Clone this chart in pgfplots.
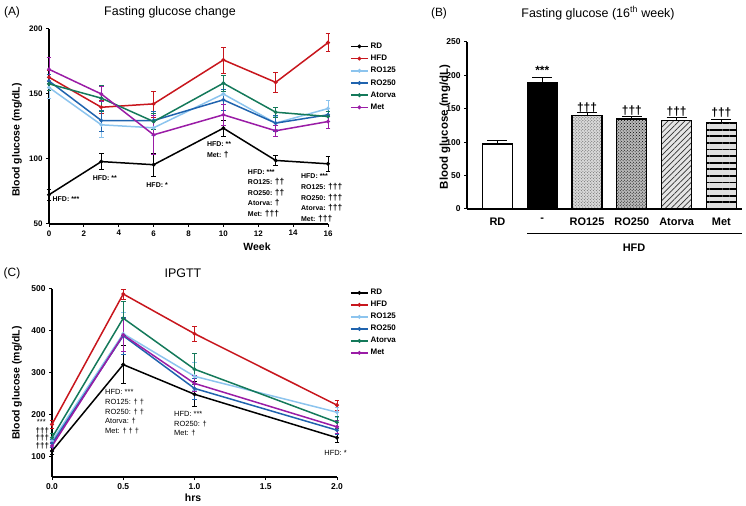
\documentclass[border=0pt]{standalone}
\usepackage{pgfplots}
\pgfplotsset{compat=1.18}
\usepackage{fontspec}
\setmainfont{Liberation Sans}
\usetikzlibrary{patterns,patterns.meta}
\definecolor{crd}{HTML}{000000}
\definecolor{chfd}{HTML}{C8161D}
\definecolor{cro1}{HTML}{8CC4EE}
\definecolor{cro2}{HTML}{1F63AE}
\definecolor{cat}{HTML}{14795A}
\definecolor{cmet}{HTML}{9A1CA6}
\pgfplotsset{
  gp/.style={scale only axis, anchor=south west, axis lines*=left, tick align=outside,
    major tick length=3bp, axis line style={line width=1.2bp},
    tick style={line width=1bp,black}, clip=false,
    /pgf/number format/assume math mode=true,
    legend cell align=left},
  errs/.style={error bars/y dir=both, error bars/y explicit,
    error bars/error bar style={line width=0.7bp},
    error bars/error mark options={rotate=90, mark size=2.3bp, line width=0.7bp}},
  ln/.style={color=#1, line width=1.5bp, mark=*, mark size=1.1bp, errs},
}
\begin{document}
\begin{tikzpicture}
\useasboundingbox (0,0) rectangle (746bp,506bp);
% ---------------- Panel A
\begin{axis}[gp, at={(49bp,282bp)}, width=279bp, height=195bp,
  xmin=0, xmax=16, ymin=50, ymax=200,
  xtick={0,2,...,16}, ytick={50,100,150,200},
  tick label style={font=\fontsize{8}{9}\selectfont\bfseries},
  legend style={at={(1.068,0.95)}, anchor=north west, draw=none, fill=none,
    font=\fontsize{8}{9}\selectfont\bfseries, row sep=1.2bp},
  legend image post style={mark size=1.1bp}]
\addplot[ln=crd] coordinates {(0,72.5)+-(0,4) (3,98)+-(0,6) (6,95.6)+-(0,9) (10,123.7)+-(0,6) (13,98.9)+-(0,4) (16,96.3)+-(0,6)};
\addplot[ln=chfd] coordinates {(0,162.9)+-(0,5) (3,139.8)+-(0,5) (6,142.4)+-(0,10) (10,176.2)+-(0,10) (13,159)+-(0,8) (16,189.5)+-(0,7)};
\addplot[ln=cro1] coordinates {(0,155)+-(0,8) (3,126.3)+-(0,10) (6,124)+-(0,6) (10,150)+-(0,8) (13,127.6)+-(0,5) (16,138.8)+-(0,6)};
\addplot[ln=cro2] coordinates {(0,160)+-(0,5) (3,129.6)+-(0,8) (6,129.6)+-(0,7) (10,145.5)+-(0,8) (13,127.6)+-(0,6) (16,134)+-(0,5)};
\addplot[ln=cat] coordinates {(0,157.8)+-(0,5) (3,146.8)+-(0,10) (6,128.8)+-(0,6) (10,158.3)+-(0,6) (13,136)+-(0,4) (16,132.7)+-(0,4)};
\addplot[ln=cmet] coordinates {(0,169)+-(0,9) (3,150)+-(0,6) (6,118.6)+-(0,15) (10,134)+-(0,8) (13,121.7)+-(0,4) (16,128.8)+-(0,5)};
\legend{RD,HFD,RO125,RO250,Atorva,Met}
\begin{scope}[every node/.style={font=\fontsize{7}{10.6}\selectfont\bfseries, align=left, inner sep=0pt}]
\node[anchor=north west] at (axis cs:0.2,71) {HFD: ***};
\node at (axis cs:3.2,85) {HFD: **};
\node at (axis cs:6.2,80) {HFD: *};
\node[anchor=north west] at (axis cs:9.05,113.5) {HFD: **\\Met: {\fontsize{8.5}{10}\selectfont †}};
\node[anchor=north west] at (axis cs:11.4,92.3) {HFD: ***\\RO125: {\fontsize{8.5}{10}\selectfont ††}\\RO250: {\fontsize{8.5}{10}\selectfont ††}\\Atorva: {\fontsize{8.5}{10}\selectfont †}\\Met: {\fontsize{8.5}{10}\selectfont †††}};
\node[anchor=north west] at (axis cs:14.45,88.5) {HFD: ***\\RO125: {\fontsize{8.5}{10}\selectfont †††}\\RO250: {\fontsize{8.5}{10}\selectfont †††}\\Atorva: {\fontsize{8.5}{10}\selectfont †††}\\Met: {\fontsize{8.5}{10}\selectfont †††}};
\end{scope}
\end{axis}
% ---------------- Panel B
\begin{axis}[gp, at={(467bp,297bp)}, width=275bp, height=167bp,
  xmin=-0.68, xmax=5.46, ymin=0, ymax=250,
  ytick={0,50,...,250}, xtick={0,...,5},
  xticklabels={RD,-,RO125,RO250,Atorva,Met},
  x tick style={draw=none},
  y tick label style={font=\fontsize{8.5}{9}\selectfont\bfseries},
  x tick label style={font=\fontsize{11}{12}\selectfont\bfseries, yshift=-2bp},
  every axis plot/.append style={ybar, bar width=30bp, bar shift=0pt, draw=black, line width=1.1bp,
    error bars/y dir=plus, error bars/y explicit,
    error bars/error bar style={line width=0.9bp},
    error bars/error mark options={rotate=90, mark size=10bp, line width=0.9bp}}]
\addplot[fill=white] coordinates {(0,97.3)+-(0,5.5)};
\addplot[fill=black] coordinates {(1,190)+-(0,6.6)};
\addplot[fill=gray!30, postaction={pattern=crosshatch dots, pattern color=gray!70!black}] coordinates {(2,139.7)+-(0,5.3)};
\addplot[fill=gray!55, postaction={pattern=crosshatch dots, pattern color=black}] coordinates {(3,134.7)+-(0,4.3)};
\addplot[fill=gray!20, postaction={pattern={Lines[angle=45, distance=4bp, line width=0.7bp]}, pattern color=black!80}] coordinates {(4,132)+-(0,5)};
\addplot[fill=gray!25, postaction={pattern={Lines[angle=0, distance=6.6bp, line width=1.8bp]}, pattern color=black}] coordinates {(5,129.7)+-(0,5)};
\begin{scope}[every node/.style={font=\fontsize{12}{13}\selectfont\bfseries, inner sep=0pt}]
\node at (axis cs:1,208) {***};
\node at (axis cs:2,152) {†††};
\node at (axis cs:3,148) {†††};
\node at (axis cs:4,146) {†††};
\node at (axis cs:5,144) {†††};
\end{scope}
\draw[line width=1bp] (axis cs:0.66,-36) -- (axis cs:5.46,-36);
\node[font=\fontsize{11}{12}\selectfont\bfseries] at (axis cs:3.05,-58) {HFD};
\end{axis}
% ---------------- Panel C
\begin{axis}[gp, at={(52bp,29bp)}, width=285bp, height=188bp,
  xmin=0, xmax=2, ymin=50, ymax=500,
  xtick={0,0.5,...,2}, ytick={100,200,...,500},
  xticklabel style={/pgf/number format/.cd, fixed, fixed zerofill, precision=1},
  tick label style={font=\fontsize{8.5}{9}\selectfont\bfseries},
  legend style={at={(1.035,1.02)}, anchor=north west, draw=none, fill=none,
    font=\fontsize{8}{9}\selectfont\bfseries, row sep=1.0bp},
  legend image post style={mark size=1.1bp}]
\addplot[ln=crd] coordinates {(0,112)+-(0,8) (0.5,319)+-(0,46) (1,248)+-(0,30) (2,144)+-(0,10)};
\addplot[ln=chfd] coordinates {(0,176)+-(0,10) (0.5,488)+-(0,12) (1,393)+-(0,18) (2,222)+-(0,12)};
\addplot[ln=cro1] coordinates {(0,136)+-(0,10) (0.5,393)+-(0,50) (1,291)+-(0,33) (2,205)+-(0,12)};
\addplot[ln=cro2] coordinates {(0,130)+-(0,10) (0.5,388)+-(0,45) (1,262)+-(0,25) (2,162)+-(0,10)};
\addplot[ln=cat] coordinates {(0,144)+-(0,10) (0.5,430)+-(0,40) (1,308)+-(0,37) (2,181)+-(0,15)};
\addplot[ln=cmet] coordinates {(0,124)+-(0,10) (0.5,390)+-(0,40) (1,274)+-(0,20) (2,170)+-(0,15)};
\legend{RD,HFD,RO125,RO250,Atorva,Met}
\begin{scope}[every node/.style={font=\fontsize{7.5}{9.8}\selectfont, align=left, inner sep=0pt}]
\node[anchor=north west] at (axis cs:0.372,260) {HFD: ***\\RO125: † †\\RO250: † †\\Atorva: †\\Met: † † †};
\node[anchor=north west] at (axis cs:0.856,208) {HFD: ***\\RO250: †\\Met: †};
\node[anchor=east] at (axis cs:2.07,107) {HFD: *};
\node at (axis cs:-0.075,181) {***};
\node[font=\fontsize{8}{5}\selectfont\bfseries, align=center] at (axis cs:-0.068,143) {†††\\†††\\†††};
\end{scope}
\end{axis}
% ---------------- Labels and titles
\node[font=\fontsize{12}{14}\selectfont] at (12bp,494bp) {(A)};
\node[font=\fontsize{12.5}{14}\selectfont] at (170bp,494bp) {Fasting glucose change};
\node[font=\fontsize{12}{14}\selectfont] at (439bp,493bp) {(B)};
\node[font=\fontsize{12.5}{14}\selectfont] at (598bp,493bp) {Fasting glucose (16\textsuperscript{th} week)};
\node[font=\fontsize{12}{14}\selectfont] at (12bp,233bp) {(C)};
\node[font=\fontsize{12.5}{14}\selectfont] at (183bp,233bp) {IPGTT};
\node[font=\fontsize{10.5}{12}\selectfont\bfseries, rotate=90] at (17bp,366bp) {Blood glucose (mg/dL)};
\node[font=\fontsize{10.5}{12}\selectfont\bfseries] at (257bp,259bp) {Week};
\node[font=\fontsize{11.5}{12}\selectfont\bfseries, rotate=90] at (445bp,379bp) {Blood glucose (mg/dL)};
\node[font=\fontsize{10.5}{12}\selectfont\bfseries, rotate=90] at (17bp,123bp) {Blood glucose (mg/dL)};
\node[font=\fontsize{10.5}{12}\selectfont\bfseries] at (193bp,8bp) {hrs};
\end{tikzpicture}
\end{document}
